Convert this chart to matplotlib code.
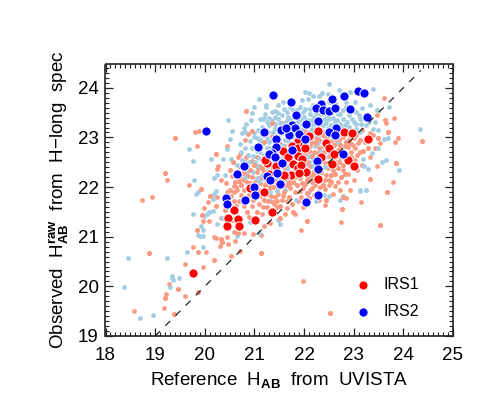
import numpy as np
import matplotlib
matplotlib.use('Agg')
import matplotlib.pyplot as plt
from matplotlib.ticker import MultipleLocator

plt.rcParams['font.family'] = ['Liberation Sans', 'DejaVu Sans']
plt.rcParams['mathtext.fontset'] = 'custom'
plt.rcParams['mathtext.rm'] = 'Liberation Sans'
plt.rcParams['mathtext.bf'] = 'Liberation Sans:bold'
plt.rcParams['mathtext.default'] = 'regular'

# points as (reference H, observed H)
salmon_outer = [
    (20.84,23.53),(19.80,23.11),(19.88,23.125),(19.41,22.98),(19.84,22.82),(20.44,22.83),(20.96,23.125),(20.88,23.06),
    (20.81,22.945),(20.23,22.66),(20.67,22.6),(20.71,22.66),(20.56,22.5),(20.27,22.42),(20.25,22.37),(19.19,22.28),
    (19.23,22.14),(19.69,22.05),(19.92,21.97),(20.33,22.14),(20.43,22.09),(20.1,21.82),(18.93,21.81),(18.74,21.74),
    (20.51,22.34),(20.59,21.9),(20.84,22.6),(18.88,20.68),(18.58,19.5),(19.17,19.57),(19.2,19.76),(19.21,19.85),
    (19.28,20.04),(19.47,19.94),(19.6,20.46),(19.6,19.81),(19.37,19.45),(19.86,19.89),(19.77,20.79),(19.86,20.7),
    (19.97,20.4),(20.02,20.69),(20.19,20.54),(20.53,20.61),(20.7,20.71),(21.14,20.68),(20.47,20.85),(20.31,20.81),
    (20.34,20.9),(20.19,21.0),(20.23,20.98),(20.33,20.95),(20.45,20.99),(20.61,20.91),(20.66,21.07),(20.79,21.08),
    (20.98,21.05),(19.84,21.14),(19.97,21.32),(20.08,21.32),(19.95,21.43),(19.98,21.58),(20.07,21.69),(20.23,21.62),
    (20.33,21.38),(20.24,21.81),(20.54,21.34),(20.59,21.1),(21.14,21.03),(20.41,21.54),(21.13,20.68),(21.93,21.14),
    (22.06,21.32),(21.93,21.81),(22.3,21.73),(22.45,21.74),(22.42,21.64),(22.59,21.87),(22.77,21.56),(22.74,21.29),
    (23.14,21.69),(23.52,21.24),(23.68,21.91),(21.98,20.11),(22.52,19.47),(22.85,21.79),(21.65,21.57),(21.78,21.5),
    (21.81,21.46),(21.61,21.45),(21.45,21.6),(21.31,21.27),(21.19,21.22),(21.51,21.37),(23.61,23.8),(23.81,23.4),
    (23.64,23.36),(23.66,23.29),(23.46,23.45),(23.69,23.11),(23.89,22.98),(23.83,22.91),(24.38,22.93),(23.52,22.88),
    (23.42,22.78),(23.28,22.78),(23.32,22.61),(23.47,22.42),(23.86,22.49),(23.79,22.1),(23.68,21.9),(23.32,22.17),
    (23.0,22.14),(22.93,21.95),(22.82,22.27),(22.69,22.1),(22.84,22.1),(22.55,22.1),(22.45,22.24),(22.42,21.97),
    (22.62,22.27),(23.06,22.34),(23.16,22.44),(23.12,22.71),(23.06,22.64),(22.99,22.84),(23.12,22.94),(23.32,23.08),
    (23.39,23.05),(23.49,22.98),(23.16,23.15),(22.89,22.81),(22.72,22.84),(22.75,22.74),(22.65,22.47),(22.79,22.44),
    (22.89,22.27),(22.72,21.94),(22.79,21.8),(22.38,21.84),(22.12,21.94),(22.02,22.07),(21.81,21.9),(21.65,22.04),
    (21.38,22.0),(21.28,21.87),(21.48,21.87),(21.78,22.1),(22.15,22.1),(22.32,22.0),(21.34,22.1),
]
salmon_core = [
    (20.52,21.82),(20.58,21.72),(20.62,21.62),(20.72,21.85),(20.78,21.62),(20.85,21.5),(20.9,21.4),(20.95,21.62),
    (21.05,21.5),(21.1,21.65),(21.15,21.45),(21.2,21.75),(21.25,21.6),(21.3,21.5),(21.38,21.7),(21.42,21.8),
    (20.65,21.95),(20.72,22.05),(20.78,21.95),(20.85,22.1),(20.9,21.85),(20.95,22.2),(21.02,22.1),(21.08,21.95),
    (21.12,22.08),(21.18,22.18),(21.22,22.05),(21.3,21.95),(21.35,22.2),(21.42,22.12),(21.48,21.98),(21.55,22.15),
    (21.6,21.9),(21.68,22.12),(21.72,21.98),(21.85,22.05),(21.92,22.18),(21.98,21.98),(22.08,22.2),(22.15,21.98),
    (22.22,22.05),(21.7,21.8),(21.55,21.75),(21.4,21.65),(20.6,22.1),(20.7,22.2),(20.82,22.28),(20.92,22.35),
    (21.05,22.3),(21.1,22.42),(21.2,22.3),(21.15,22.55),(21.05,22.6),(21.0,22.45),(20.95,22.52),(21.3,22.55),
    (21.38,22.38),(21.5,22.4),(21.62,22.38),(21.7,22.55),(21.85,22.52),(21.95,22.62),(22.05,22.5),(22.12,22.42),
    (22.2,22.55),(22.3,22.42),(22.4,22.5),(22.48,22.38),(22.35,22.3),(22.25,22.25),(22.42,22.15),(22.55,22.25),
    (22.6,22.55),(22.72,22.6),(22.85,22.65),(22.95,22.7),(22.5,22.62),(22.4,22.7),(22.3,22.78),(22.2,22.7),
    (22.1,22.72),(22.15,22.9),(22.3,22.95),(22.45,22.98),(22.55,22.92),(22.65,22.95),(22.78,23.0),(22.9,22.95),
    (23.05,23.05),(22.85,22.9),(22.68,22.75),(22.58,23.05),(22.38,23.05),(22.18,23.1),(21.6,22.62),(21.5,22.9),
    (21.65,22.98),(21.35,23.02),(21.2,22.9),(21.3,22.78),(21.55,23.3),(21.35,23.3),(21.8,22.85),(21.95,23.05),
    (22.2,22.3),(22.0,22.28),(21.82,22.2),(21.45,22.25),(20.7,22.4),(20.62,22.0),(20.5,21.95),(20.45,21.9),
    (22.62,22.02),(22.75,22.2),(22.9,22.5),(23.02,22.55),(23.18,22.72),(23.22,22.9),(22.5,22.05),(22.28,21.9),
    (20.55,21.6),(20.68,21.72),(20.82,21.75),(20.88,21.98),(20.98,21.75),(21.03,21.88),(21.12,21.82),(21.18,21.6),
    (21.28,21.72),(21.33,21.82),(21.45,21.72),(21.52,21.62),(21.58,21.82),(21.65,21.72),(21.75,21.65),(21.88,21.72),
    (21.98,21.6),(22.1,21.78),(22.2,21.85),(21.92,21.92),(22.05,21.88),(22.18,22.12),(22.3,22.12),(22.38,22.05),
    (22.5,22.15),(22.58,22.35),(22.68,22.38),(22.78,22.35),(22.85,22.5),(22.7,22.5),(22.48,22.48),(22.55,22.72),
    (22.65,22.62),(22.78,22.7),(22.82,22.82),(22.92,22.88),(23.02,22.78),(23.08,22.88),(22.95,22.6),(22.98,23.0),
    (22.7,22.95),(22.6,22.85),(22.48,22.9),(22.38,22.82),(22.25,22.88),(22.12,22.82),(22.28,22.68),(22.15,22.62),
    (22.08,22.35),(22.15,22.25),(22.05,22.15),(21.95,22.08),(21.8,22.32),(21.72,22.08),(21.58,22.02),(21.45,22.05),
    (21.32,22.02),(21.25,22.12),(21.12,22.18),(21.0,22.02),(20.92,22.08),(20.78,22.15),(20.68,22.12),(20.55,22.22),
    (20.58,22.02),(20.75,22.28),(20.88,22.22),(21.08,22.38),(21.15,22.38),(21.22,22.62),(21.38,22.65),(21.48,22.82),
    (21.6,22.82),(21.7,22.72),(21.82,22.72),(21.92,22.72),(22.02,22.68),(21.95,22.92),(21.85,23.0),(21.75,23.02),
    (22.02,23.1),(22.1,23.02),(22.25,22.98),(22.42,23.12),(22.58,23.15),(22.72,23.1),(22.9,23.05),(23.0,22.98),
]
lightblue_outer = [
    (21.09,23.77),(21.0,23.615),(20.96,23.49),(21.23,23.615),(21.11,23.38),(21.19,23.39),(20.94,23.35),(20.47,23.36),
    (20.83,23.27),(20.78,23.2),(20.54,23.125),(20.75,23.09),(20.82,23.1),(21.0,23.08),(20.5,22.96),(20.71,22.86),
    (21.01,22.81),(19.68,22.76),(20.45,22.76),(19.77,22.535),(20.12,22.56),(20.37,22.575),(20.53,22.575),(20.57,22.51),
    (20.41,22.25),(20.24,22.24),(20.18,22.19),(19.79,22.14),(19.82,21.86),(19.87,21.9),(20.22,21.92),(20.18,21.86),
    (20.17,21.77),(20.64,22.44),(18.46,20.57),(18.38,19.99),(18.70,19.37),(18.96,19.42),(19.23,20.57),(19.65,20.7),
    (19.34,20.21),(19.34,20.16),(19.35,20.12),(19.49,20.16),(19.29,19.99),(19.76,21.46),(19.87,21.04),(19.9,21.02),
    (19.97,21.02),(19.97,21.14),(19.92,21.22),(19.97,20.8),(20.04,21.46),(20.09,21.5),(20.17,21.52),(19.99,21.42),
    (20.25,21.26),(20.35,21.37),(20.64,21.01),(21.1,21.08),(20.91,21.29),(22.4,21.84),(22.5,21.82),(22.72,21.74),
    (22.79,21.82),(22.24,21.71),(21.51,21.25),(21.83,21.74),(22.08,21.89),(23.12,21.93),(23.24,21.94),(21.33,21.71),
    (21.48,21.34),(22.5,24.08),(23.39,23.97),(22.1,23.9),(22.02,23.92),(22.18,23.84),(22.3,23.84),(22.37,23.9),
    (22.48,23.88),(22.71,23.95),(22.92,23.92),(23.02,23.72),(23.16,23.6),(23.32,23.65),(23.47,23.56),(23.71,23.615),
    (22.5,23.72),(22.64,23.68),(22.85,23.72),(22.08,23.78),(21.95,23.75),(21.57,23.72),(21.47,23.65),(21.41,23.53),
    (21.23,23.66),(22.02,23.58),(22.17,23.65),(21.91,23.615),(21.65,23.51),(22.12,23.48),(22.48,23.45),(22.72,23.48),
    (23.05,23.51),(23.12,23.38),(23.42,23.31),(23.24,23.25),(22.87,23.31),(22.79,23.38),(24.33,23.17),(23.6,22.96),
    (23.69,22.995),(23.49,22.78),(23.36,22.68),(23.19,22.575),(23.66,22.54),(23.56,22.51),(23.91,22.35),(23.2,22.43),
    (23.29,22.355),(23.24,21.95),(23.13,21.95),(23.49,23.15),(23.39,23.18),(21.18,23.38),
]
lightblue_core = [
    (21.3,23.4),(21.42,23.42),(21.55,23.45),(21.68,23.42),(21.78,23.55),(21.9,23.45),(22.0,23.42),(22.08,23.35),
    (22.2,23.42),(22.32,23.48),(22.42,23.38),(22.58,23.4),(22.66,23.35),(22.9,23.45),(22.97,23.38),(23.04,23.28),
    (23.15,23.28),(21.3,23.25),(21.42,23.28),(21.52,23.3),(21.62,23.3),(21.72,23.35),(21.85,23.32),(21.95,23.28),
    (22.1,23.25),(22.18,23.28),(22.38,23.25),(22.45,23.3),(22.55,23.25),(22.72,23.28),(22.9,23.22),(23.05,23.18),
    (21.28,23.1),(21.38,23.12),(21.48,23.05),(21.6,23.08),(21.78,23.12),(21.95,23.15),(22.1,23.12),(22.18,23.02),
    (22.35,23.15),(22.42,23.05),(22.3,23.05),(22.38,22.92),(22.22,22.82),(22.12,22.98),(21.7,22.9),(21.55,22.85),
    (21.3,22.9),(21.25,22.98),(21.12,22.95),(21.08,23.15),(21.15,23.22),(21.0,23.0),(21.12,22.7),(21.2,22.65),
    (21.32,22.78),(21.48,22.7),(21.62,22.72),(21.5,22.55),(21.35,22.5),(21.4,22.38),(21.55,22.28),(21.65,22.35),
    (21.52,22.2),(21.42,22.18),(21.62,22.2),(21.7,22.3),(21.75,22.15),(21.25,22.4),(21.15,22.25),(21.05,22.18),
    (21.02,22.5),(20.85,22.4),(20.88,22.65),(20.75,22.55),(21.7,22.42),(22.05,22.6),(22.12,22.62),(22.18,22.42),
    (22.1,22.3),(22.35,22.7),(22.42,22.6),(22.25,23.2),(21.95,22.35),(22.68,23.1),(22.75,23.05),(22.85,23.15),
    (21.15,23.05),(20.92,22.92),(20.8,22.78),(21.25,22.2),(21.3,22.1),(20.98,22.3),
    (21.22,23.48),(21.35,23.52),(21.48,23.5),(21.6,23.58),(21.72,23.62),(21.85,23.55),(21.98,23.52),(22.12,23.58),
    (22.25,23.5),(22.42,23.48),(22.55,23.5),(22.68,23.48),(22.78,23.55),(22.85,23.62),(22.98,23.55),(23.1,23.45),
    (23.2,23.38),(23.3,23.32),(23.0,23.32),(22.82,23.25),(22.62,23.32),(22.5,23.38),(22.35,23.38),(22.15,23.35),
    (22.02,23.35),(21.92,23.38),(21.8,23.42),(21.65,23.35),(21.48,23.38),(21.35,23.35),(21.25,23.32),(21.42,23.2),
    (21.58,23.22),(21.72,23.22),(21.88,23.22),(22.0,23.2),(22.15,23.18),(22.3,23.25),(22.48,23.2),(22.75,23.2),
    (23.0,23.12),(23.12,23.1),(21.05,22.98),(21.18,22.88),(21.35,22.95),(21.5,22.98),(21.62,22.95),(21.8,22.98),
    (21.88,23.12),(22.0,23.0),(22.28,22.88),(22.4,22.82),(22.48,23.02),(22.58,23.18),(22.05,22.88),(21.95,22.82),
    (21.62,22.52),(21.55,22.42),(21.45,22.55),(21.28,22.62),(21.2,22.48),(21.1,22.58),(20.98,22.62),(20.9,22.5),
    (20.82,22.5),(20.72,22.7),(20.95,22.78),(21.05,22.72),(21.1,22.85),(21.25,22.78),(21.4,22.72),(21.58,22.62),
    (21.8,22.55),(21.85,22.42),(21.98,22.48),(22.1,22.5),(22.18,22.58),(22.3,22.62),(22.5,22.7),(22.42,22.4),
    (21.35,22.3),(21.48,22.32),(21.58,22.12),(21.68,22.22),(21.82,22.28),(21.92,22.22),(22.02,22.42),(21.1,22.12),
    (21.2,22.18),(21.05,22.42),(20.88,22.32),(20.82,22.2),(21.32,21.9),(21.45,21.92),(21.62,21.95),(22.68,22.88),
]
red_pts = [
    (22.28,23.14),(22.81,23.12),(22.96,23.09),(23.28,22.96),(22.09,23.03),(21.88,22.92),(21.76,22.83),(21.88,22.79),
    (22.0,22.84),(22.02,22.78),(21.57,22.72),(21.68,22.61),(21.87,22.62),(21.96,22.56),(22.44,22.88),(22.5,22.78),
    (22.6,22.66),(22.34,22.6),(22.88,22.54),(23.0,22.43),(22.57,22.46),(22.28,22.17),(22.03,22.31),(21.74,22.24),
    (21.61,22.23),(21.43,22.43),(21.26,22.49),(21.77,22.47),(21.87,22.39),(21.94,22.44),(21.89,22.29),(21.3,22.26),
    (21.19,21.9),(21.68,23.11),(21.6,22.24),(20.91,21.98),(20.58,21.53),(20.46,21.37),(20.66,21.36),(20.44,21.22),
    (20.69,21.21),(21.01,21.34),(21.36,21.49),(19.77,20.26),(21.21,22.54),
]
blue_pts = [
    (21.38,23.85),(21.73,23.72),(23.09,23.94),(23.2,23.90),(22.81,23.84),(22.57,23.77),(22.35,23.68),(22.24,23.60),
    (22.38,23.56),(22.51,23.53),(22.62,23.59),(22.93,23.58),(21.83,23.45),(23.27,23.41),(22.29,23.33),(22.03,23.27),
    (21.76,23.25),(21.82,23.2),(22.64,23.2),(22.5,23.11),(22.62,23.05),(21.53,23.15),(21.19,23.1),(21.7,23.04),
    (21.9,23.07),(21.43,22.96),(21.63,23.2),(22.02,22.96),(21.43,22.81),(21.36,22.69),(21.3,22.67),(21.41,22.6),
    (21.76,22.74),(21.56,22.49),(22.78,22.66),(22.27,22.53),(22.28,22.36),(21.45,22.29),(21.26,22.22),(21.52,22.06),
    (22.29,21.85),(20.02,23.14),(21.08,22.80),(20.78,22.42),(20.64,22.26),(21.0,22.0),(21.01,21.85),(20.43,21.78),
    (20.82,21.73),(20.45,21.65),(21.31,22.14),(22.03,21.69),
]
x_ticks = [18, 19, 20, 21, 22, 23, 24, 25]
y_ticks = [19, 20, 21, 22, 23, 24]

fig = plt.figure(figsize=(4.85, 4.04), dpi=100)
ax = fig.add_axes([105.5/485, 1-336/404, (453-105.5)/485, (336-64.5)/404])

sal = np.array(salmon_outer + salmon_core)
lb = np.array(lightblue_outer + lightblue_core)
red = np.array(red_pts)
blue = np.array(blue_pts)

ax.scatter(sal[:, 0], sal[:, 1], s=12, c='#fb9a80', lw=0, zorder=2)
ax.scatter(lb[:, 0], lb[:, 1], s=12, c='#a3cde2', lw=0, zorder=3)
ax.scatter(sal[::3, 0], sal[::3, 1], s=12, c='#fb9a80', lw=0, zorder=3.5)
ax.scatter(red[:, 0], red[:, 1], s=44, c='#ff0000', edgecolors='white', lw=0.7, zorder=4, label='IRS1')
ax.scatter(blue[:, 0], blue[:, 1], s=44, c='#0000ff', edgecolors='white', lw=0.7, zorder=5, label='IRS2')
ax.plot([19, 24.35], [19, 24.35], color='#222222', lw=0.9, ls=(0, (5.5, 6)), zorder=6)

ax.set_xlim(18, 25)
ax.set_ylim(19, 24.47)
ax.set_xticks(x_ticks)
ax.set_yticks(y_ticks)
ax.xaxis.set_minor_locator(MultipleLocator(0.1))
ax.yaxis.set_minor_locator(MultipleLocator(0.1))
ax.tick_params(which='major', direction='in', top=True, right=True, length=6, width=0.9, labelsize=13.5, pad=5, color='#222222')
ax.tick_params(which='minor', direction='in', top=True, right=True, length=3, width=0.8, color='#222222')
ax.tick_params(axis='x', which='major', pad=8)
for sp in ax.spines.values():
    sp.set_linewidth(1.2)
    sp.set_color('#222222')

ax.set_xlabel(r'Reference  H$_{\mathbf{AB}}$  from  UVISTA', fontsize=13.5, labelpad=4)
ax.set_ylabel(r'Observed  H$_{\mathbf{AB}}^{\mathbf{raw}}$  from  H$-$long  spec', fontsize=13.5, labelpad=5)

leg = ax.legend(loc='lower right', bbox_to_anchor=(0.945, 0.01), frameon=False, fontsize=11.5,
                labelspacing=0.75, handletextpad=0.3, scatterpoints=1)

fig.savefig('out.png', dpi=100)
